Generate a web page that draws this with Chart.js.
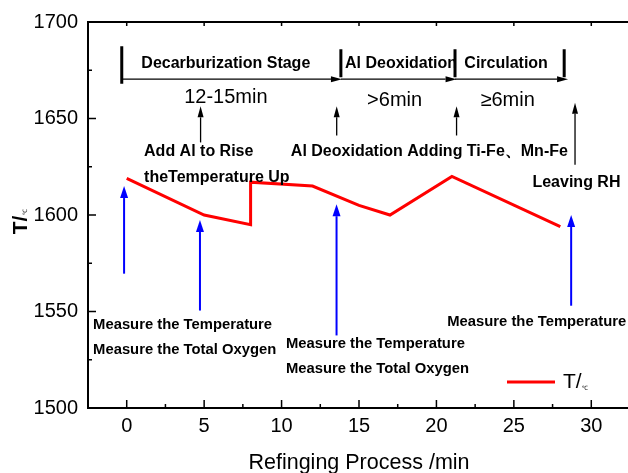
<!DOCTYPE html>
<html>
<head>
<meta charset="utf-8">
<title>RH refining temperature</title>
<script src="https://cdn.jsdelivr.net/npm/chart.js@4.4.0/dist/chart.umd.min.js"></script>
<style>
    html, body { margin: 0; padding: 0; background: #ffffff; overflow: hidden; }
    #wrap { width: 640px; height: 476px; }
</style>
</head>
<body>
<div id="wrap"><canvas id="tempChart" width="640" height="476"></canvas></div>
<script>
// Refining time (min) and steel temperature during the RH process
var processTime = [0, 5, 8, 8, 12, 15, 17, 21, 28];
var temperature = [1619, 1600, 1595, 1617, 1615, 1605, 1600, 1620, 1594];

// Axis ticks
var xTickValues = [0, 5, 10, 15, 20, 25, 30];
var yTickValues = [1500, 1550, 1600, 1650, 1700];
var xMinorValues = [-2.5, 2.5, 7.5, 12.5, 17.5, 22.5, 27.5, 32.5];
var yMinorValues = [1525, 1575, 1625, 1675];

var seriesName = 'T/';
var fontName = '"Liberation Sans", Arial, sans-serif';

// Process stages along the top (x in min, y in temperature units)
var stageBounds = [-0.32, 13.83, 21.2, 28.25];
var stageArrowEnds = [13.9, 21.3, 28.5];
var stageLineY = 1670.4;
var stageTexts = [
    { text: 'Decarburization Stage', x: 6.4, y: 1678.7, align: 'center' },
    { text: 'Al Deoxidation', x: 14.1, y: 1678.7, align: 'left' },
    { text: 'Circulation', x: 24.5, y: 1678.7, align: 'center' }
];
var durationTexts = [
    { text: '12-15min', x: 6.4, y: 1661 },
    { text: '>6min', x: 17.3, y: 1659.5 },
    { text: '\u22656min', x: 24.6, y: 1659.5 }
];

// Operations (black arrows) and measurements (blue arrows)
var operationArrows = [
    { x: 4.77, from: 1637.6, to: 1656.3 },
    { x: 13.56, from: 1641.2, to: 1656.3 },
    { x: 21.3, from: 1641.2, to: 1656.3 },
    { x: 28.95, from: 1626, to: 1658.1 }
];
var operationTexts = [
    { text: 'Add Al to Rise', x: 1.12, y: 1632.7 },
    { text: 'theTemperature Up', x: 1.12, y: 1619.5 },
    { text: 'Al Deoxidation Adding Ti-Fe\u3001Mn-Fe', x: 10.6, y: 1632.7 },
    { text: 'Leaving RH', x: 26.2, y: 1616.6 }
];
var measureArrows = [
    { x: -0.17, from: 1569.6, to: 1615 },
    { x: 4.73, from: 1550.5, to: 1597.4 },
    { x: 13.55, from: 1537.6, to: 1605.6 },
    { x: 28.7, from: 1553, to: 1600 }
];
var measureTexts = [
    { text: 'Measure the Temperature', x: -2.17, y: 1543.2 },
    { text: 'Measure the Total Oxygen', x: -2.17, y: 1530.3 },
    { text: 'Measure the Temperature', x: 10.28, y: 1533.4 },
    { text: 'Measure the Total Oxygen', x: 10.28, y: 1520.5 },
    { text: 'Measure the Temperature', x: 20.7, y: 1544.8 }
];

function drawArrow(ctx, x1, y1, x2, y2, color, width, headLen, headHalf)
{
    var ang = Math.atan2(y2 - y1, x2 - x1);
    var bx = x2 - headLen * Math.cos(ang);
    var by = y2 - headLen * Math.sin(ang);
    ctx.strokeStyle = color;
    ctx.fillStyle = color;
    ctx.lineWidth = width;
    ctx.beginPath();
    ctx.moveTo(x1, y1);
    ctx.lineTo(bx, by);
    ctx.stroke();
    ctx.beginPath();
    ctx.moveTo(x2, y2);
    ctx.lineTo(bx + headHalf * Math.sin(ang), by - headHalf * Math.cos(ang));
    ctx.lineTo(bx - headHalf * Math.sin(ang), by + headHalf * Math.cos(ang));
    ctx.closePath();
    ctx.fill();
}

// Frame, inward ticks, legend and the process annotations
var processPlugin = {
    id: 'processPlugin',
    afterDraw: function(chart) {
        var ctx = chart.ctx;
        var xs = chart.scales.x;
        var ys = chart.scales.y;
        var area = chart.chartArea;
        var X = function(v) { return xs.getPixelForValue(v); };
        var Y = function(v) { return ys.getPixelForValue(v); };

        ctx.save();

        // top border
        ctx.strokeStyle = '#000';
        ctx.lineWidth = 2;
        ctx.beginPath();
        ctx.moveTo(area.left, area.top);
        ctx.lineTo(area.right + 5, area.top);
        ctx.stroke();

        // inward ticks
        ctx.lineWidth = 1.5;
        ctx.beginPath();
        xTickValues.forEach(function(v) {
            ctx.moveTo(X(v), area.bottom);
            ctx.lineTo(X(v), area.bottom - 8);
            ctx.moveTo(X(v), area.top);
            ctx.lineTo(X(v), area.top + 4);
        });
        xMinorValues.forEach(function(v) {
            ctx.moveTo(X(v), area.bottom);
            ctx.lineTo(X(v), area.bottom - 4);
        });
        yTickValues.forEach(function(v) {
            ctx.moveTo(area.left, Y(v));
            ctx.lineTo(area.left + 8, Y(v));
        });
        yMinorValues.forEach(function(v) {
            ctx.moveTo(area.left, Y(v));
            ctx.lineTo(area.left + 4, Y(v));
        });
        ctx.stroke();

        // y axis title
        ctx.save();
        ctx.translate(21, 222);
        ctx.rotate(-Math.PI / 2);
        ctx.fillStyle = '#000';
        ctx.textBaseline = 'middle';
        ctx.textAlign = 'left';
        ctx.font = 'bold 21px ' + fontName;
        var tw = ctx.measureText(seriesName).width;
        ctx.fillText(seriesName, -tw / 2 - 3, 0);
        ctx.font = '6px ' + fontName;
        ctx.fillText('\u2103', tw / 2 - 2, 4);
        ctx.restore();

        // legend
        ctx.strokeStyle = '#ff0000';
        ctx.lineWidth = 3;
        ctx.beginPath();
        ctx.moveTo(507, 382);
        ctx.lineTo(555, 382);
        ctx.stroke();
        ctx.fillStyle = '#000';
        ctx.textBaseline = 'middle';
        ctx.textAlign = 'left';
        ctx.font = '21px ' + fontName;
        ctx.fillText(seriesName, 563, 382);
        ctx.font = '6px ' + fontName;
        ctx.fillText('\u2103', 564 + ctx.measureText(seriesName).width * 3.4, 388);

        // stage bars and arrows
        ctx.strokeStyle = '#000';
        ctx.lineWidth = 3;
        ctx.beginPath();
        stageBounds.forEach(function(v, i) {
            var top = i === 0 ? 1687.4 : 1685.9;
            var bot = i === 0 ? 1668 : 1671.4;
            ctx.moveTo(X(v), Y(top));
            ctx.lineTo(X(v), Y(bot));
        });
        ctx.stroke();
        for (var i = 0; i < stageArrowEnds.length; i++)
        {
            drawArrow(ctx, X(stageBounds[i]), Y(stageLineY), X(stageArrowEnds[i]), Y(stageLineY),
                '#000', 1.3, 11, 3);
        }

        ctx.fillStyle = '#000';
        ctx.textBaseline = 'middle';
        ctx.font = 'bold 16px ' + fontName;
        stageTexts.forEach(function(s) {
            ctx.textAlign = s.align;
            ctx.fillText(s.text, X(s.x), Y(s.y));
        });
        ctx.font = '20px ' + fontName;
        ctx.textAlign = 'center';
        durationTexts.forEach(function(s) {
            ctx.fillText(s.text, X(s.x), Y(s.y));
        });

        // operations
        operationArrows.forEach(function(a) {
            drawArrow(ctx, X(a.x), Y(a.from), X(a.x), Y(a.to), '#000', 1.3, 11, 3);
        });
        ctx.font = 'bold 16px ' + fontName;
        ctx.textAlign = 'left';
        operationTexts.forEach(function(s) {
            ctx.fillText(s.text, X(s.x), Y(s.y));
        });

        // measurements
        measureArrows.forEach(function(a) {
            drawArrow(ctx, X(a.x), Y(a.from), X(a.x), Y(a.to), '#0000ff', 2, 12, 4);
        });
        ctx.fillStyle = '#000';
        ctx.font = 'bold 14.8px ' + fontName;
        measureTexts.forEach(function(s) {
            ctx.fillText(s.text, X(s.x), Y(s.y));
        });

        ctx.restore();
    }
};

var ctx = document.getElementById('tempChart').getContext('2d');

const tempChart = new Chart(ctx, {
    type: 'line',
    data: {
        datasets: [
            {
                label: seriesName,
                data: processTime.map((t, i) => ({ x: t, y: temperature[i] })),
                borderColor: '#ff0000',
                backgroundColor: '#ff0000',
                borderWidth: 3,
                pointRadius: 0,
                tension: 0,
                fill: false
            }
        ]
    },
    options: {
        responsive: false,
        animation: false,
        layout: {
            padding: { top: 21, right: 10, left: 0, bottom: 0 }
        },
        scales: {
            x: {
                type: 'linear',
                min: -2.5,
                max: 32.5,
                afterBuildTicks: function(scale) {
                    scale.ticks = xTickValues.map(v => ({ value: v }));
                },
                afterFit: function(scale) {
                    scale.height = 68;
                },
                ticks: {
                    padding: 6,
                    color: '#000',
                    font: { family: fontName, size: 20 },
                    maxRotation: 0,
                    callback: v => String(v)
                },
                grid: { display: true, drawOnChartArea: false, drawTicks: false },
                border: { display: true, color: '#000', width: 2 },
                title: {
                    display: true,
                    text: 'Refinging Process /min',
                    color: '#000',
                    font: { family: fontName, size: 21.5 },
                    padding: { top: 0, bottom: 0 }
                }
            },
            y: {
                type: 'linear',
                min: 1500,
                max: 1700,
                afterBuildTicks: function(scale) {
                    scale.ticks = yTickValues.map(v => ({ value: v }));
                },
                afterFit: function(scale) {
                    scale.width = 88;
                },
                ticks: {
                    padding: 10,
                    color: '#000',
                    font: { family: fontName, size: 20 },
                    callback: v => String(v)
                },
                grid: { display: true, drawOnChartArea: false, drawTicks: false },
                border: { display: true, color: '#000', width: 2 }
            }
        },
        plugins: {
            legend: { display: false },
            tooltip: { enabled: false }
        }
    },
    plugins: [processPlugin]
});
</script>
</body>
</html>
